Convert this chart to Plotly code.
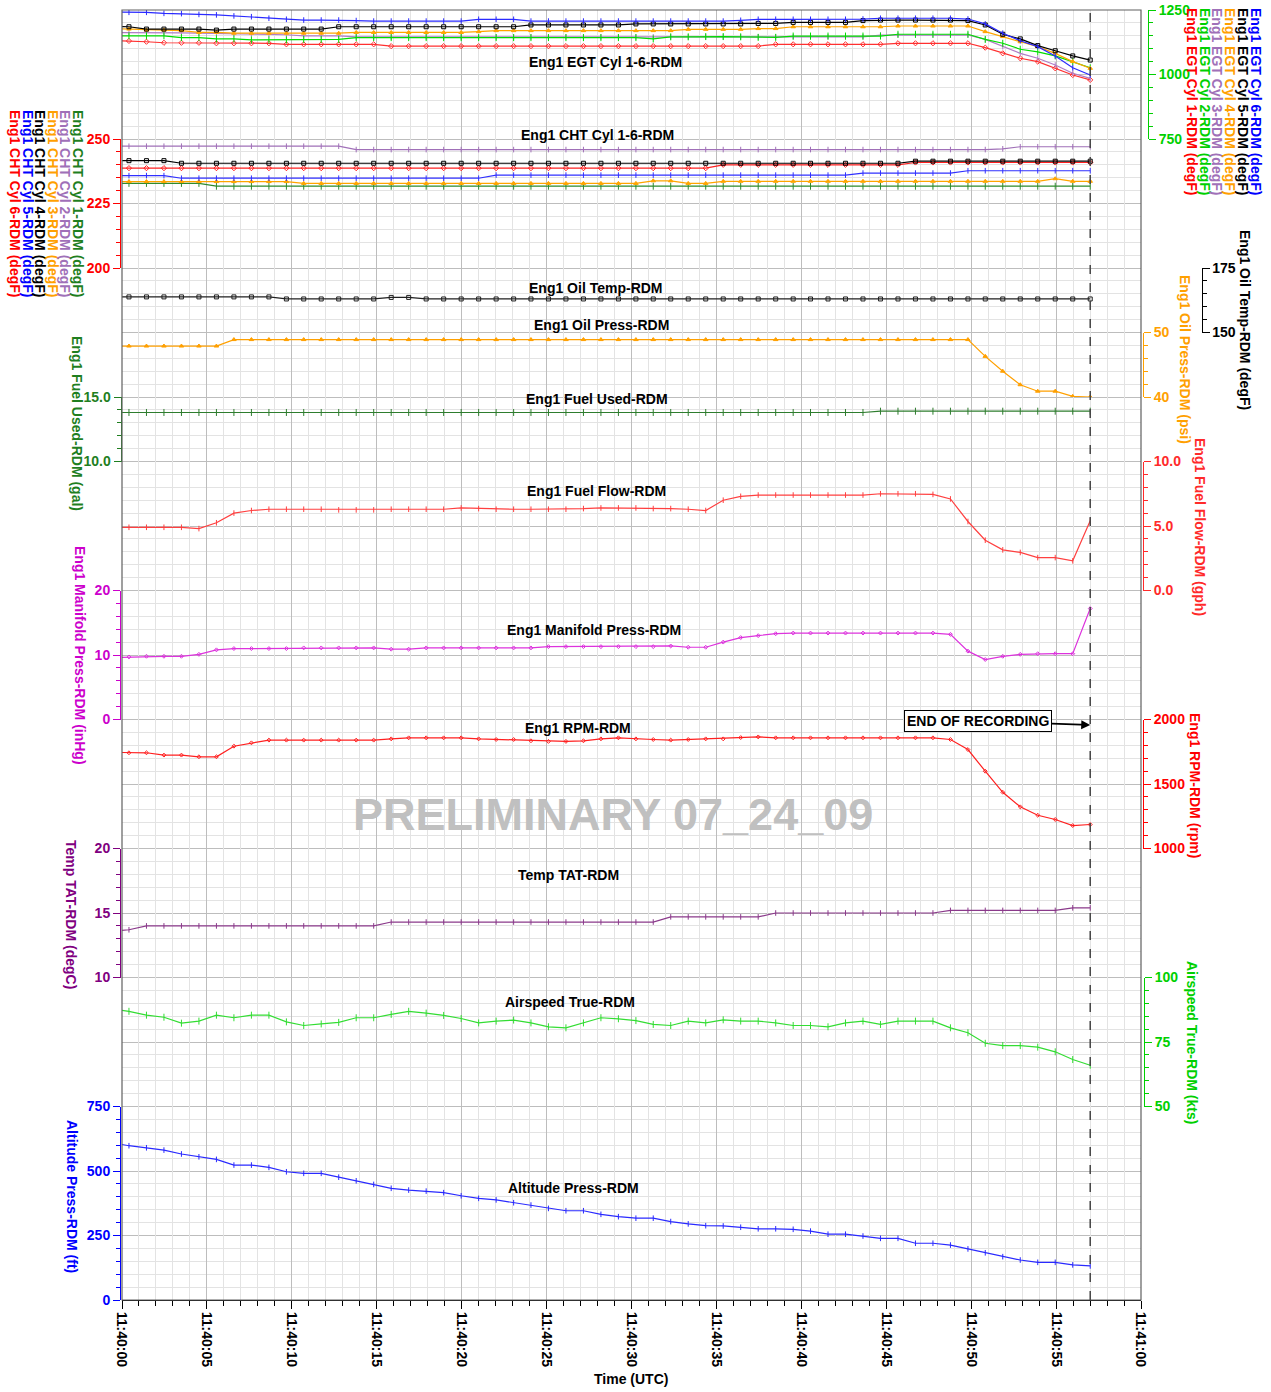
import plotly.graph_objects as go

W, H = 1271, 1392
FONT = "Liberation Sans, Arial, sans-serif"

# ---------------- data ----------------
TIME_S = [-0.62, 0.41, 1.44, 2.47, 3.50, 4.53, 5.56, 6.59, 7.62, 8.65,
          9.68, 10.70, 11.73, 12.76, 13.79, 14.82, 15.85, 16.88, 17.91, 18.94,
          19.97, 21.00, 22.03, 23.06, 24.08, 25.11, 26.14, 27.17, 28.20, 29.23,
          30.26, 31.28, 32.31, 33.34, 34.37, 35.40, 36.43, 37.46, 38.49, 39.52,
          40.54, 41.57, 42.60, 43.63, 44.66, 45.69, 46.72, 47.75, 48.78, 49.81,
          50.83, 51.86, 52.89, 53.92, 54.95, 55.98, 57.01]
TIME_TICK_S = [0, 5, 10, 15, 20, 25, 30, 35, 40, 45, 50, 55, 60]
TIME_TICK_LABELS = ["11:40:00", "11:40:05", "11:40:10", "11:40:15", "11:40:20",
                    "11:40:25", "11:40:30", "11:40:35", "11:40:40", "11:40:45",
                    "11:40:50", "11:40:55", "11:41:00"]
TIME_MINOR_S = list(range(0, 61))
END_OF_RECORDING_S = 57.01

EGT_CYL1 = [1132, 1130, 1127, 1123, 1123, 1123, 1121, 1121, 1121, 1121,
            1117, 1117, 1117, 1117, 1117, 1117, 1110, 1110, 1110, 1110,
            1110, 1110, 1110, 1110, 1110, 1110, 1110, 1110, 1110, 1110,
            1110, 1110, 1110, 1110, 1110, 1110, 1110, 1110, 1117, 1117,
            1117, 1117, 1117, 1117, 1117, 1121, 1121, 1121, 1121, 1121,
            1104, 1082, 1063, 1050, 1024, 998, 979]
EGT_CYL2 = [1150, 1150, 1150, 1150, 1143, 1143, 1138, 1138, 1134, 1134,
            1134, 1136, 1136, 1136, 1143, 1143, 1143, 1143, 1143, 1143,
            1143, 1143, 1143, 1143, 1143, 1143, 1143, 1143, 1143, 1143,
            1143, 1138, 1146, 1146, 1147, 1147, 1146, 1144, 1144, 1149,
            1149, 1149, 1149, 1149, 1149, 1156, 1156, 1156, 1156, 1156,
            1136, 1121, 1098, 1088, 1072, 1050, 1026]
EGT_CYL3 = [1163, 1163, 1163, 1162, 1161, 1160, 1159, 1158, 1157, 1155,
            1154, 1150, 1150, 1150, 1146, 1146, 1146, 1146, 1146, 1146,
            1146, 1146, 1146, 1146, 1146, 1146, 1146, 1146, 1146, 1146,
            1146, 1146, 1146, 1146, 1146, 1146, 1146, 1146, 1146, 1146,
            1146, 1146, 1146, 1146, 1153, 1153, 1153, 1153, 1153, 1153,
            1136, 1108, 1082, 1063, 1037, 1005, 985]
EGT_CYL4 = [1178, 1176, 1172, 1172, 1170, 1163, 1163, 1160, 1160, 1160,
            1160, 1160, 1160, 1160, 1163, 1163, 1163, 1163, 1163, 1163,
            1163, 1166, 1170, 1170, 1170, 1170, 1170, 1170, 1170, 1170,
            1170, 1170, 1170, 1175, 1175, 1175, 1175, 1178, 1178, 1185,
            1185, 1185, 1185, 1185, 1185, 1188, 1188, 1188, 1188, 1188,
            1166, 1147, 1127, 1108, 1082, 1050, 1024]
EGT_CYL5 = [1186, 1185, 1176, 1176, 1176, 1176, 1172, 1176, 1176, 1176,
            1176, 1176, 1176, 1185, 1185, 1185, 1185, 1185, 1185, 1185,
            1185, 1185, 1185, 1185, 1192, 1192, 1192, 1192, 1192, 1192,
            1196, 1196, 1196, 1196, 1196, 1196, 1196, 1198, 1198, 1202,
            1202, 1202, 1202, 1209, 1211, 1211, 1211, 1211, 1211, 1209,
            1192, 1156, 1138, 1112, 1092, 1072, 1056]
EGT_CYL6 = [1242, 1241, 1241, 1237, 1236, 1233, 1231, 1227, 1224, 1218,
            1214, 1211, 1211, 1211, 1209, 1207, 1207, 1207, 1207, 1207,
            1207, 1214, 1214, 1214, 1207, 1207, 1207, 1207, 1207, 1207,
            1207, 1207, 1207, 1207, 1207, 1207, 1210, 1214, 1214, 1214,
            1214, 1214, 1214, 1215, 1218, 1218, 1218, 1218, 1218, 1215,
            1196, 1160, 1131, 1108, 1072, 1026, 998]

CHT_CYL1 = [232.8, 232.8, 232.8, 232.8, 232.8, 232.8, 231.7, 231.7, 231.7, 231.7,
            231.7, 231.7, 231.7, 231.7, 231.7, 231.7, 231.7, 231.7, 231.7, 231.7,
            231.7, 231.7, 231.7, 231.7, 231.7, 231.7, 231.7, 231.7, 231.7, 231.7,
            231.7, 231.7, 231.7, 231.7, 231.7, 231.7, 231.7, 231.7, 231.7, 231.7,
            231.7, 231.7, 231.7, 231.7, 231.7, 231.7, 231.7, 231.7, 231.7, 231.7,
            231.7, 231.7, 231.7, 231.7, 231.7, 231.7, 231.7]
CHT_CYL2 = [247.2, 247.2, 247.2, 247.2, 247.2, 247.2, 247.2, 247.2, 247.2, 247.2,
            247.2, 247.2, 247.2, 247.2, 245.9, 245.9, 245.9, 245.9, 245.9, 245.9,
            245.9, 245.9, 245.9, 245.9, 245.9, 245.9, 245.9, 245.9, 245.9, 245.9,
            245.9, 245.9, 245.9, 245.9, 245.9, 245.9, 245.9, 245.9, 245.9, 245.9,
            245.9, 245.9, 245.9, 245.9, 245.9, 245.9, 245.9, 245.9, 245.9, 245.9,
            245.9, 246.2, 247.0, 247.0, 247.0, 247.0, 247.0]
CHT_CYL3 = [233.5, 233.5, 233.5, 233.5, 233.5, 233.5, 233.5, 233.5, 233.5, 233.5,
            233.5, 232.8, 232.8, 232.8, 232.8, 232.8, 232.8, 232.8, 232.8, 232.8,
            232.8, 232.8, 232.8, 232.8, 232.8, 232.8, 232.8, 232.8, 232.8, 232.8,
            232.8, 233.8, 233.8, 232.8, 232.8, 233.6, 233.6, 233.6, 233.6, 233.6,
            233.6, 233.6, 233.6, 233.6, 233.6, 233.6, 233.6, 233.6, 233.6, 233.6,
            233.6, 233.6, 233.6, 233.6, 234.6, 233.6, 233.6]
CHT_CYL4 = [241.6, 241.6, 241.6, 241.6, 240.6, 240.6, 240.6, 240.6, 240.6, 240.6,
            240.6, 240.6, 240.6, 240.6, 240.6, 240.6, 240.6, 240.6, 240.6, 240.6,
            240.6, 240.6, 240.6, 240.6, 240.6, 240.6, 240.6, 240.6, 240.6, 240.6,
            240.6, 240.6, 240.6, 240.6, 240.6, 240.6, 240.6, 240.6, 240.6, 240.6,
            240.6, 240.6, 240.6, 240.6, 240.6, 240.6, 241.4, 241.4, 241.4, 241.4,
            241.4, 241.4, 241.4, 241.4, 241.4, 241.4, 241.4]
CHT_CYL5 = [235.8, 235.8, 235.8, 235.8, 234.8, 234.8, 234.8, 234.8, 234.8, 234.8,
            234.8, 234.8, 234.8, 234.8, 234.8, 234.8, 234.8, 234.8, 234.8, 234.8,
            234.8, 234.8, 236.0, 236.0, 236.0, 236.0, 236.0, 236.0, 236.0, 236.0,
            236.0, 236.0, 236.0, 236.0, 236.0, 236.0, 236.0, 236.0, 236.0, 236.0,
            236.0, 236.0, 236.0, 236.8, 236.8, 236.8, 236.8, 236.8, 236.8, 237.7,
            237.7, 237.7, 237.7, 237.7, 237.7, 237.7, 237.7]
CHT_CYL6 = [238.7, 238.7, 238.7, 238.7, 238.7, 238.7, 238.7, 238.7, 238.7, 238.7,
            238.7, 238.7, 238.7, 238.7, 238.7, 238.7, 238.7, 238.7, 238.7, 238.7,
            238.7, 238.7, 238.7, 238.7, 238.7, 238.7, 238.7, 238.7, 238.7, 238.7,
            238.7, 238.7, 238.7, 238.7, 238.7, 240.0, 240.0, 240.0, 240.0, 240.0,
            240.0, 240.0, 240.0, 240.0, 240.0, 240.0, 240.9, 240.9, 240.9, 240.9,
            240.9, 240.9, 240.9, 240.9, 240.9, 240.9, 240.9]

OIL_TEMP = [163.8, 163.8, 163.8, 163.8, 163.8, 163.8, 163.8, 163.8, 163.8, 163.8,
            163.0, 163.0, 163.0, 163.0, 163.0, 163.0, 163.6, 163.6, 163.0, 163.0,
            163.0, 163.0, 163.0, 163.0, 163.0, 163.0, 163.0, 163.0, 163.0, 163.0,
            163.0, 163.0, 163.0, 163.0, 163.0, 163.0, 163.0, 163.0, 163.0, 163.0,
            163.0, 163.0, 163.0, 163.0, 163.0, 163.0, 163.0, 163.0, 163.0, 163.0,
            163.0, 163.0, 163.0, 163.0, 163.0, 163.0, 163.0]
OIL_PRESS = [47.9, 47.9, 47.9, 47.9, 47.9, 47.9, 47.9, 48.9, 48.9, 48.9,
             48.9, 48.9, 48.9, 48.9, 48.9, 48.9, 48.9, 48.9, 48.9, 48.9,
             48.9, 48.9, 48.9, 48.9, 48.9, 48.9, 48.9, 48.9, 48.9, 48.9,
             48.9, 48.9, 48.9, 48.9, 48.9, 48.9, 48.9, 48.9, 48.9, 48.9,
             48.9, 48.9, 48.9, 48.9, 48.9, 48.9, 48.9, 48.9, 48.9, 48.9,
             46.3, 44.0, 41.9, 40.9, 40.9, 40.1, 40.0]
FUEL_USED = [13.8, 13.8, 13.8, 13.8, 13.8, 13.8, 13.8, 13.8, 13.8, 13.8,
             13.8, 13.8, 13.8, 13.8, 13.8, 13.8, 13.8, 13.8, 13.8, 13.8,
             13.8, 13.8, 13.8, 13.8, 13.8, 13.8, 13.8, 13.8, 13.8, 13.8,
             13.8, 13.8, 13.8, 13.8, 13.8, 13.8, 13.8, 13.8, 13.8, 13.8,
             13.8, 13.8, 13.8, 13.8, 13.9, 13.9, 13.9, 13.9, 13.9, 13.9,
             13.9, 13.9, 13.9, 13.9, 13.9, 13.9, 13.9]
FUEL_FLOW = [4.9, 4.9, 4.9, 4.9, 4.9, 4.8, 5.25, 6.0, 6.2, 6.3,
             6.3, 6.3, 6.3, 6.25, 6.25, 6.25, 6.3, 6.3, 6.3, 6.3,
             6.4, 6.35, 6.3, 6.3, 6.3, 6.3, 6.3, 6.35, 6.4, 6.4,
             6.4, 6.35, 6.35, 6.3, 6.2, 7.0, 7.3, 7.4, 7.4, 7.4,
             7.4, 7.4, 7.4, 7.4, 7.5, 7.5, 7.5, 7.45, 7.1, 5.35,
             3.9, 3.15, 2.95, 2.55, 2.55, 2.3, 5.4]
MANIFOLD = [9.6, 9.7, 9.8, 9.8, 9.8, 10.1, 10.8, 11.0, 11.0, 11.0,
            11.0, 11.1, 11.1, 11.1, 11.1, 11.1, 10.9, 10.9, 11.1, 11.1,
            11.1, 11.1, 11.1, 11.1, 11.1, 11.3, 11.3, 11.3, 11.3, 11.3,
            11.3, 11.3, 11.4, 11.2, 11.2, 12.0, 12.7, 13.0, 13.3, 13.4,
            13.4, 13.4, 13.4, 13.4, 13.4, 13.4, 13.4, 13.4, 13.2, 10.6,
            9.3, 9.8, 10.1, 10.2, 10.2, 10.2, 17.2]
RPM = [1745, 1742, 1742, 1724, 1724, 1711, 1711, 1793, 1819, 1840,
       1840, 1840, 1840, 1840, 1840, 1840, 1850, 1858, 1858, 1858,
       1858, 1850, 1845, 1845, 1835, 1830, 1830, 1835, 1850, 1858,
       1850, 1845, 1840, 1845, 1850, 1850, 1860, 1865, 1858, 1858,
       1858, 1858, 1858, 1858, 1858, 1858, 1858, 1858, 1845, 1767,
       1599, 1436, 1323, 1258, 1225, 1178, 1186]
TAT = [13.6, 13.7, 14.0, 14.0, 14.0, 14.0, 14.0, 14.0, 14.0, 14.0,
       14.0, 14.0, 14.0, 14.0, 14.0, 14.0, 14.3, 14.3, 14.3, 14.3,
       14.3, 14.3, 14.3, 14.3, 14.3, 14.3, 14.3, 14.3, 14.3, 14.3,
       14.3, 14.3, 14.7, 14.7, 14.7, 14.7, 14.7, 14.7, 15.0, 15.0,
       15.0, 15.0, 15.0, 15.0, 15.0, 15.0, 15.0, 15.0, 15.2, 15.2,
       15.2, 15.2, 15.2, 15.2, 15.2, 15.4, 15.4]
AIRSPEED = [87.8, 86.9, 85.4, 84.6, 82.3, 83.1, 85.4, 84.4, 85.4, 85.4,
            82.8, 81.4, 82.0, 82.6, 84.4, 84.4, 85.7, 86.9, 86.2, 85.3,
            84.1, 82.4, 83.1, 83.5, 82.4, 80.9, 80.5, 82.4, 84.4, 84.0,
            83.3, 81.8, 81.4, 83.1, 82.4, 83.6, 83.1, 83.1, 82.4, 81.4,
            81.4, 80.9, 82.4, 83.1, 81.8, 83.1, 83.1, 83.1, 80.5, 78.6,
            74.5, 73.6, 73.6, 73.0, 71.2, 68.2, 66.0]
ALTITUDE = [610, 598, 590, 581, 566, 555, 545, 523, 523, 514,
            497, 491, 491, 476, 462, 448, 433, 426, 422, 416,
            404, 394, 388, 377, 368, 355, 346, 346, 332, 323,
            317, 317, 304, 295, 288, 287, 282, 276, 276, 274,
            267, 255, 255, 248, 239, 239, 220, 220, 213, 198,
            183, 168, 155, 146, 146, 136, 132]

# ---------------- geometry helpers (layout only) ----------------
PLOT_L, PLOT_R, PLOT_T, PLOT_B = 122, 1141, 10, 1300
ROW = (PLOT_B - PLOT_T) / 20.0


def fx(p):
    return p / W


def fy(p):
    return 1 - p / H


def grid_y(k):
    return PLOT_B - ROW * k


C_RED = "#ff0000"
C_GREEN = "#00d000"
C_DKGREEN = "#1f7f1f"
C_PURPLE = "#a070b8"
C_ORANGE = "#ffa000"
C_BLUE = "#0000ff"
C_MAGENTA = "#cc00cc"
C_TAT = "#800080"

fig = go.Figure()

# axis definitions: rows(lo,hi), range, dtick, minor, side, spine px, color, fmt
AXES = {
    "y2": (18, 20, [750, 1250], 250, 50, "right", 1148, C_GREEN, None),
    "y3": (16, 18, [200, 250], 25, 5, "left", 120, C_RED, None),
    "y4": (15, 16, [150, 175], 25, 5, "right", 1201.5, "#000000", None),
    "y5": (14, 15, [40, 50], 10, 2, "right", 1143, C_ORANGE, None),
    "y6": (13, 14, [10, 15], 5, 1, "left", 120.5, C_DKGREEN, ".1f"),
    "y7": (11, 13, [0, 10], 5, 1, "right", 1143, "#ff2a2a", ".1f"),
    "y8": (9, 11, [0, 20], 10, 2, "left", 120, C_MAGENTA, None),
    "y9": (7, 9, [1000, 2000], 500, 100, "right", 1143, C_RED, None),
    "y10": (5, 7, [10, 20], 5, 1, "left", 120, C_TAT, None),
    "y11": (3, 5, [50, 100], 25, 5, "right", 1144, C_GREEN, None),
    "y12": (0, 3, [0, 750], 250, 50, "left", 120, C_BLUE, None),
}

layout_axes = {}
for name, (lo, hi, rng, dt, mn, side, spx, col, fmt) in AXES.items():
    d = dict(
        domain=[fy(grid_y(lo)), fy(grid_y(hi))],
        range=rng, anchor="free", position=fx(spx), side=side,
        showgrid=False, zeroline=False, showline=True, linecolor=col, linewidth=1,
        ticks="outside", ticklen=7, tickwidth=1, tickcolor=col,
        tickmode="linear", tick0=rng[0], dtick=dt,
        minor=dict(tickmode="linear", tick0=rng[0], dtick=mn, ticks="outside",
                   ticklen=4, tickcolor=col, showgrid=False),
        tickfont=dict(family=FONT, size=14, color=col, weight="bold"),
        fixedrange=True, automargin=False,
    )
    if fmt:
        d["tickformat"] = fmt
    layout_axes["yaxis" + name[1:]] = d

# base grid trace (invisible)
fig.add_trace(go.Scatter(x=[0], y=[0], xaxis="x", yaxis="y", mode="markers",
                         marker=dict(opacity=0), hoverinfo="skip", showlegend=False))


def add(y, axis, color, symbol, size=4, width=1.2):
    fig.add_trace(go.Scatter(
        x=TIME_S, y=y, xaxis="x", yaxis=axis, mode="lines+markers",
        line=dict(color=color, width=width),
        marker=dict(symbol=symbol, size=size, color=color, line=dict(color=color, width=1)),
        showlegend=False, hoverinfo="skip"))


# EGT
add(EGT_CYL1, "y2", "#ff3030", "diamond-open", 4)
add(EGT_CYL3, "y2", "#b07cc6", "line-ns-open", 4)
add(EGT_CYL2, "y2", "#00dd00", "line-ns-open", 5)
add(EGT_CYL4, "y2", "#ffa500", "triangle-up", 4)
add(EGT_CYL5, "y2", "#000000", "square-open", 4)
add(EGT_CYL6, "y2", "#2a2aff", "line-ns-open", 4)
# CHT
add(CHT_CYL1, "y3", "#2e8b2e", "line-ns-open", 5)
add(CHT_CYL3, "y3", "#ffa500", "triangle-up", 4)
add(CHT_CYL5, "y3", "#3030ff", "line-ns-open", 4)
add(CHT_CYL6, "y3", "#ff2020", "diamond-open", 4)
add(CHT_CYL4, "y3", "#000000", "square-open", 4)
add(CHT_CYL2, "y3", "#a070b8", "line-ns-open", 4)
# others
add(OIL_TEMP, "y4", "#202020", "square-open", 4)
add(OIL_PRESS, "y5", "#ffa000", "triangle-up", 4)
add(FUEL_USED, "y6", "#2e7d2e", "line-ns-open", 5)
add(FUEL_FLOW, "y7", "#ff4040", "line-ns-open", 4)
add(MANIFOLD, "y8", "#dd33dd", "diamond-open", 3)
add(RPM, "y9", "#ff2020", "diamond-open", 3)
add(TAT, "y10", "#8b3a8b", "line-ns-open", 4)
add(AIRSPEED, "y11", "#33dd33", "line-ns-open", 5)
add(ALTITUDE, "y12", "#2a2aff", "line-ns-open", 4)

annotations = []


def vtitle(text, xp, yp, color):
    annotations.append(dict(text=text, x=fx(xp), y=fy(yp), xref="paper", yref="paper",
                            textangle=90, showarrow=False, xanchor="center", yanchor="middle",
                            font=dict(family=FONT, size=14, color=color, weight="bold")))


# stacked CHT titles (left)
for xp, txt, col in [(15, "Eng1 CHT Cyl 6-RDM (degF)", C_RED),
                     (28, "Eng1 CHT Cyl 5-RDM (degF)", C_BLUE),
                     (40, "Eng1 CHT Cyl 4-RDM (degF)", "#000000"),
                     (53, "Eng1 CHT Cyl 3-RDM (degF)", C_ORANGE),
                     (65, "Eng1 CHT Cyl 2-RDM (degF)", C_PURPLE),
                     (78, "Eng1 CHT Cyl 1-RDM (degF)", C_DKGREEN)]:
    vtitle(txt, xp, 203, col)
# stacked EGT titles (right)
for xp, txt, col in [(1192, "Eng1 EGT Cyl 1-RDM (degF)", C_RED),
                     (1205, "Eng1 EGT Cyl 2-RDM (degF)", C_GREEN),
                     (1217, "Eng1 EGT Cyl 3-RDM (degF)", C_PURPLE),
                     (1230, "Eng1 EGT Cyl 4-RDM (degF)", C_ORANGE),
                     (1243, "Eng1 EGT Cyl 5-RDM (degF)", "#000000"),
                     (1256, "Eng1 EGT Cyl 6-RDM (degF)", C_BLUE)]:
    vtitle(txt, xp, 101, col)

vtitle("Eng1 Oil Temp-RDM (degF)", 1245, 320, "#000000")
vtitle("Eng1 Oil Press-RDM (psi)", 1185, 359, C_ORANGE)
vtitle("Eng1 Fuel Flow-RDM (gph)", 1200, 527, "#ff2a2a")
vtitle("Eng1 RPM-RDM (rpm)", 1195, 785, C_RED)
vtitle("Airspeed True-RDM (kts)", 1192, 1042, C_GREEN)
vtitle("Eng1 Fuel Used-RDM (gal)", 77, 423, C_DKGREEN)
vtitle("Eng1 Manifold Press-RDM (inHg)", 80, 655, C_MAGENTA)
vtitle("Temp TAT-RDM (degC)", 71, 914, C_TAT)
vtitle("Altitude Press-RDM (ft)", 72, 1196, C_BLUE)

# in-plot labels
for txt, xp, yp in [("Eng1 EGT Cyl 1-6-RDM", 605, 62),
                    ("Eng1 CHT Cyl 1-6-RDM", 597, 135),
                    ("Eng1 Oil Temp-RDM", 596, 288),
                    ("Eng1 Oil Press-RDM", 601, 325),
                    ("Eng1 Fuel Used-RDM", 597, 399),
                    ("Eng1 Fuel Flow-RDM", 596, 491),
                    ("Eng1 Manifold Press-RDM", 594, 630),
                    ("Eng1 RPM-RDM", 578, 728),
                    ("Temp TAT-RDM", 568, 875),
                    ("Airspeed True-RDM", 570, 1002),
                    ("Altitude Press-RDM", 573, 1188)]:
    annotations.append(dict(text=txt, x=fx(xp), y=fy(yp), xref="paper", yref="paper",
                            showarrow=False, xanchor="center", yanchor="middle",
                            font=dict(family=FONT, size=14, color="#000000", weight="bold")))

# watermark
annotations.append(dict(text="PRELIMINARY 07_24_09", x=fx(613), y=fy(814), xref="paper", yref="paper",
                        showarrow=False, xanchor="center", yanchor="middle",
                        font=dict(family=FONT, size=45, color="#c0c0c0", weight="bold")))

# end of recording callout
annotations.append(dict(text="END OF RECORDING", x=END_OF_RECORDING_S, y=(PLOT_B - 725) / ROW,
                        xref="x", yref="y", ax=-112, ay=-4, showarrow=True,
                        arrowhead=2, arrowsize=1, arrowwidth=1.8, arrowcolor="#000000",
                        bordercolor="#000000", borderwidth=1, borderpad=2, bgcolor="#ffffff",
                        font=dict(family=FONT, size=14, color="#000000", weight="bold")))

# x title
annotations.append(dict(text="Time (UTC)", x=fx(631), y=fy(1379), xref="paper", yref="paper",
                        showarrow=False, xanchor="center", yanchor="middle",
                        font=dict(family=FONT, size=14, color="#000000", weight="bold")))

shapes = [
    dict(type="rect", xref="paper", yref="paper", x0=fx(PLOT_L), x1=fx(PLOT_R),
         y0=fy(PLOT_B), y1=fy(PLOT_T), line=dict(color="#606060", width=1.2), layer="above"),
    dict(type="line", xref="x", yref="paper", x0=END_OF_RECORDING_S, x1=END_OF_RECORDING_S,
         y0=fy(PLOT_B), y1=fy(PLOT_T), line=dict(color="#444444", width=1.5, dash="dash"),
         layer="above"),
]

fig.update_layout(
    width=W, height=H, margin=dict(l=0, r=0, t=0, b=0),
    plot_bgcolor="rgba(0,0,0,0)", paper_bgcolor="#ffffff", showlegend=False,
    font=dict(family=FONT, size=14, color="#000000"),
    xaxis=dict(
        domain=[fx(PLOT_L), fx(PLOT_R)], range=[0, 60], anchor="y",
        tickmode="array", tickvals=TIME_TICK_S, ticktext=TIME_TICK_LABELS, tickangle=90,
        ticks="outside", ticklen=8, tickcolor="#000000", tickwidth=1,
        showgrid=True, gridcolor="#bdbdbd", gridwidth=1,
        minor=dict(tickmode="array", tickvals=TIME_MINOR_S, ticks="outside", ticklen=5,
                   tickcolor="#000000", showgrid=True, gridcolor="#e3e3e3", gridwidth=1),
        showline=True, linecolor="#000000", linewidth=1, zeroline=False,
        tickfont=dict(family=FONT, size=14, color="#000000", weight="bold"),
        fixedrange=True, automargin=False,
    ),
    yaxis=dict(
        domain=[fy(PLOT_B), fy(PLOT_T)], range=[0, 20], anchor="x",
        tickmode="linear", tick0=0, dtick=1, showticklabels=False, ticks="",
        showgrid=True, gridcolor="#bdbdbd", gridwidth=1, zeroline=False, showline=False,
        minor=dict(tickmode="linear", tick0=0, dtick=0.2, showgrid=True, gridcolor="#e3e3e3",
                   gridwidth=1, ticks=""),
        fixedrange=True, automargin=False,
    ),
    annotations=annotations,
    shapes=shapes,
    **layout_axes,
)

fig.write_html("out.html", config={"displayModeBar": False},
               post_script="document.body.style.margin='0px';document.body.style.overflow='hidden';")
